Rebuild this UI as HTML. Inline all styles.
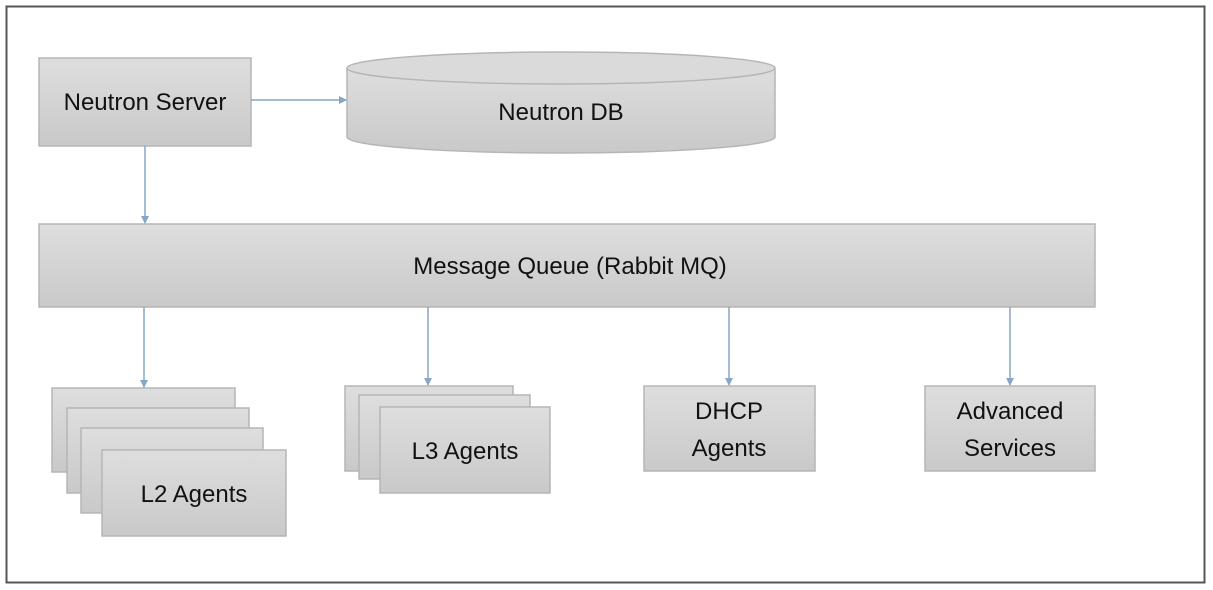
<!DOCTYPE html>
<html><head><meta charset="utf-8"><style>
html,body{margin:0;padding:0;background:#fff;}
svg{display:block;}
text{font-family:"Liberation Sans",sans-serif;font-size:24px;fill:#111;text-anchor:middle;}
</style></head><body>
<svg width="1213" height="590" viewBox="0 0 1213 590" xmlns="http://www.w3.org/2000/svg">
<defs>
<linearGradient id="g" x1="0" y1="0" x2="0" y2="1">
<stop offset="0" stop-color="#dedede"/><stop offset="1" stop-color="#c9c9c9"/>
</linearGradient>
<marker id="a" markerWidth="8" markerHeight="8" refX="7" refY="4" orient="auto" markerUnits="userSpaceOnUse">
<path d="M0,0 L8,4 L0,8 z" fill="#86a7c6"/>
</marker>
</defs>
<rect x="0" y="0" width="1213" height="590" fill="#fff"/>
<rect x="6.5" y="6.5" width="1198" height="576" fill="#fff" stroke="#555" stroke-width="2"/>
<g stroke="#b5b5b5" stroke-width="1.5" fill="url(#g)">
<rect x="39" y="58" width="212" height="88"/>
<path d="M347,68 L347,137 A214,16 0 0 0 775,137 L775,68"/>
<ellipse cx="561" cy="68" rx="214" ry="16" fill="#dadada"/>
<rect x="39" y="224" width="1056" height="83"/>
<rect x="52" y="388" width="183" height="84"/>
<rect x="67" y="408" width="182" height="85"/>
<rect x="81" y="428" width="182" height="85"/>
<rect x="102" y="450" width="184" height="86"/>
<rect x="345" y="386" width="168" height="85"/>
<rect x="359" y="395" width="171" height="84"/>
<rect x="380" y="407" width="170" height="86"/>
<rect x="644" y="386" width="171" height="85"/>
<rect x="925" y="386" width="170" height="85"/>
</g>
<g stroke="#86a7c6" stroke-width="1.5" fill="none" marker-end="url(#a)">
<line x1="251" y1="100" x2="346" y2="100"/>
<line x1="145" y1="146" x2="145" y2="223"/>
<line x1="144" y1="307" x2="144" y2="387"/>
<line x1="428" y1="307" x2="428" y2="385"/>
<line x1="729" y1="307" x2="729" y2="385"/>
<line x1="1010" y1="307" x2="1010" y2="385"/>
</g>
<text x="145" y="110">Neutron Server</text>
<text x="561" y="120">Neutron DB</text>
<text x="570" y="274">Message Queue (Rabbit MQ)</text>
<text x="194" y="502">L2 Agents</text>
<text x="465" y="459">L3 Agents</text>
<text x="729" y="419">DHCP</text>
<text x="729" y="456">Agents</text>
<text x="1010" y="419">Advanced</text>
<text x="1010" y="456">Services</text>
</svg>
</body></html>
